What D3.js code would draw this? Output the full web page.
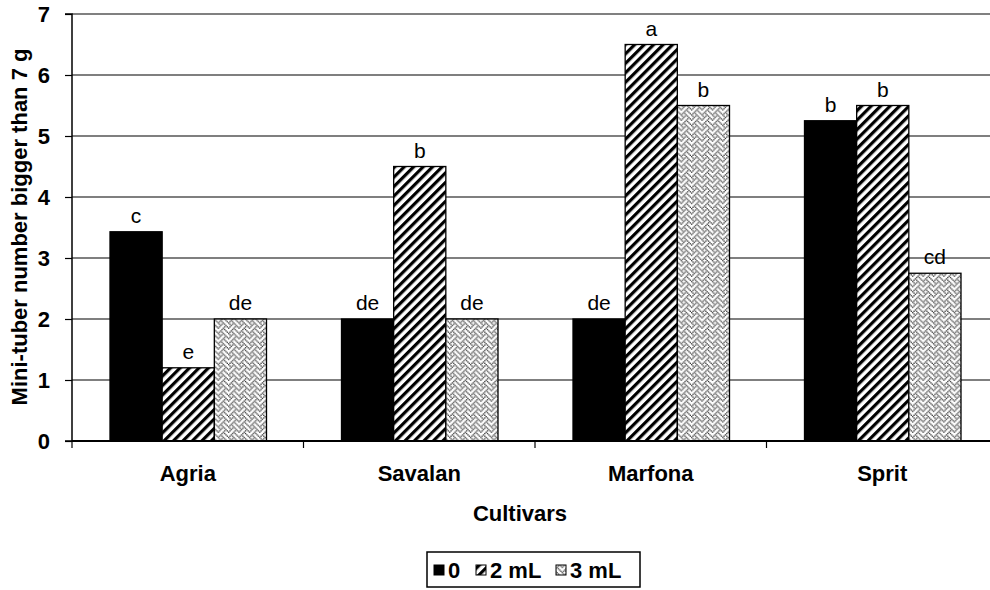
<!DOCTYPE html>
<html><head><meta charset="utf-8">
<script src="https://cdn.jsdelivr.net/npm/d3@7"></script>
<style>body{margin:0;background:#fff}svg{display:block;font-family:"Liberation Sans",Arial,sans-serif}</style>
</head><body><svg id="c" width="990" height="590"></svg>
<script>
const categories = ["Agria","Savalan","Marfona","Sprit"];
const seriesNames = ["0","2 mL","3 mL"];
const values0 = [3.43, 2.0, 2.0, 5.25];
const values2 = [1.2, 4.5, 6.5, 5.5];
const values3 = [2.0, 2.0, 5.5, 2.75];
const letters0 = ["c","de","de","b"];
const letters2 = ["e","b","a","b"];
const letters3 = ["de","de","b","cd"];
const yTicks = [0,1,2,3,4,5,6,7];

const svg = d3.select("#c");
const defs = svg.append("defs");
const st = defs.append("pattern").attr("id","stripe").attr("patternUnits","userSpaceOnUse")
  .attr("width",6.7).attr("height",6.7).attr("patternTransform","rotate(45)");
st.append("rect").attr("width",6.7).attr("height",6.7).attr("fill","#fff");
st.append("rect").attr("width",3.2).attr("height",6.7).attr("fill","#000");
// weave hatch bitmap (8x8)
const weaveBits = [0x88,0x54,0x22,0x45,0x88,0x14,0x22,0x51];
const s = 1.3;
const wv = defs.append("pattern").attr("id","weave").attr("patternUnits","userSpaceOnUse")
  .attr("width",8*s).attr("height",8*s);
wv.append("rect").attr("width",8*s).attr("height",8*s).attr("fill","#fff");
weaveBits.forEach((b,r)=>{
  for(let c=0;c<8;c++){ if(b & (0x80>>c)) wv.append("rect").attr("x",c*s).attr("y",r*s).attr("width",s).attr("height",s).attr("fill","#3a3a3a"); }
});
const fills = ["#000","url(#stripe)","url(#weave)"];

const L = 72, T = 14, B = 441, R = 72 + 4*231.5;
const y = d3.scaleLinear().domain([0,7]).range([B,T]);
const x0 = d3.scaleBand().domain(categories).range([L,R]).padding(0);
const x1 = d3.scaleBand().domain(seriesNames).range([38, 38+156.5]).padding(0);

// gridlines
svg.append("g").selectAll("line").data(yTicks.filter(t=>t>0)).join("line")
  .attr("x1",L).attr("x2",990).attr("y1",d=>y(d)).attr("y2",d=>y(d))
  .attr("stroke",d=>d===7?"#808080":"#000").attr("stroke-width",d=>d===7?2:1.2);

const data = categories.map((c,i)=>({c, vals:[values0[i],values2[i],values3[i]], labs:[letters0[i],letters2[i],letters3[i]]}));
const g = svg.append("g").selectAll("g").data(data).join("g").attr("transform",d=>`translate(${x0(d.c)},0)`);
g.selectAll("rect").data(d=>d.vals.map((v,k)=>({v,k}))).join("rect")
  .attr("x",d=>x1(seriesNames[d.k])).attr("width",x1.bandwidth())
  .attr("y",d=>y(d.v)).attr("height",d=>B-y(d.v))
  .attr("fill",d=>fills[d.k]).attr("stroke","#000").attr("stroke-width",1.3);
g.selectAll("text").data(d=>d.vals.map((v,k)=>({v,k,l:d.labs[k]}))).join("text")
  .attr("x",d=>x1(seriesNames[d.k])+x1.bandwidth()/2).attr("y",d=>y(d.v)-9)
  .attr("text-anchor","middle").attr("font-size",21).text(d=>d.l);

// y axis
const ya = svg.append("g").attr("transform",`translate(${L},0)`)
  .call(d3.axisLeft(y).tickValues(yTicks).tickSize(7).tickPadding(15).tickFormat(d3.format("d")));
ya.select(".domain").attr("stroke","#000").attr("stroke-width",1.5).attr("d",`M-7,${T}H0V${B}H-7`);
ya.selectAll(".tick line").attr("stroke","#000").attr("stroke-width",1.2);
ya.selectAll("text").attr("font-size",22).attr("font-weight","bold").attr("fill","#000").attr("font-family","Liberation Sans, Arial");

// x axis
svg.append("line").attr("x1",L).attr("x2",990).attr("y1",B).attr("y2",B).attr("stroke","#000").attr("stroke-width",1.8);
svg.append("g").selectAll("line").data(categories.concat(["_end"])).join("line")
  .attr("x1",(d,i)=>L+i*x0.bandwidth()).attr("x2",(d,i)=>L+i*x0.bandwidth())
  .attr("y1",B).attr("y2",B+7).attr("stroke","#000").attr("stroke-width",1.2);
svg.append("g").selectAll("text").data(categories).join("text")
  .attr("x",d=>x0(d)+x0.bandwidth()/2).attr("y",481).attr("text-anchor","middle")
  .attr("font-size",22).attr("font-weight","bold").text(d=>d);
svg.append("text").attr("x",520).attr("y",521).attr("text-anchor","middle")
  .attr("font-size",22).attr("font-weight","bold").text("Cultivars");
svg.append("text").attr("transform","translate(27,227) rotate(-90)").attr("text-anchor","middle")
  .attr("font-size",22).attr("font-weight","bold").text("Mini-tuber number bigger than 7 g");

// legend
const lg = svg.append("g");
lg.append("rect").attr("x",427).attr("y",552).attr("width",213).attr("height",35)
  .attr("fill","#fff").attr("stroke","#000").attr("stroke-width",1.5);
const lx = [434, 476, 556];
seriesNames.forEach((s,k)=>{
  lg.append("rect").attr("x",lx[k]).attr("y",565).attr("width",10).attr("height",10)
    .attr("fill",fills[k]).attr("stroke","#000").attr("stroke-width",1);
  lg.append("text").attr("x",lx[k]+14).attr("y",578).attr("font-size",22).attr("font-weight","bold").text(s);
});
</script></body></html>
